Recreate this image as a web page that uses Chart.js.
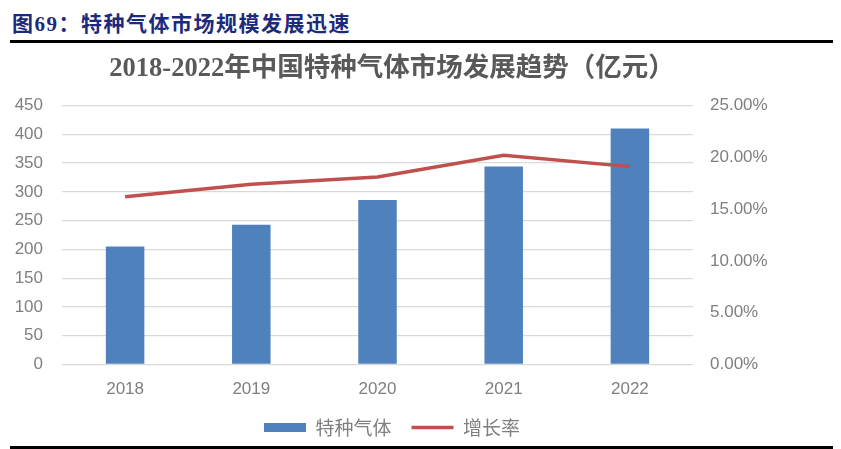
<!DOCTYPE html>
<html>
<head>
<meta charset="utf-8">
<script src="https://cdn.jsdelivr.net/npm/chart.js@4/dist/chart.umd.min.js"></script>
<style>
  body { margin: 0; width: 841px; height: 449px; background: #fff; position: relative; overflow: hidden; }
  #header { position: absolute; left: 12px; top: 7px; font: bold 21px 'Liberation Serif', 'Noto Sans CJK SC'; color: #1c2a7c; letter-spacing: 1.5px; }
  .rule { position: absolute; left: 10px; width: 823px; background: #000; }
  #box { position: absolute; left: 0; top: 44px; width: 784px; height: 403px; }
</style>
</head>
<body>
<div id="header">图69：特种气体市场规模发展迅速</div>
<div class="rule" style="top:40px;height:2.5px"></div>
<div id="box"><canvas id="chart" width="784" height="403"></canvas></div>
<div class="rule" style="top:446px;height:3px"></div>
<script>
// 数据
const years = ['2018', '2019', '2020', '2021', '2022'];
const gasMarket = [205, 243, 286, 344, 410];      // 亿元
const growthRate = [16.2, 17.4, 18.1, 20.2, 19.1]; // %

const tickFont = { family: "'Liberation Sans', 'Noto Sans'", size: 17 };
const grey = '#7f7f7f';

const ctx = document.getElementById('chart').getContext('2d');
new Chart(ctx, {
  data: {
    labels: years,
    datasets: [
      {
        type: 'line',
        label: '增长率',
        data: growthRate,
        yAxisID: 'y1',
        borderColor: '#c0504d',
        borderWidth: 3.5,
        tension: 0,
        pointRadius: 0,
        pointStyle: 'line',
        pointBorderColor: '#c0504d',
        pointBorderWidth: 3.5,
        order: 0
      },
      {
        type: 'bar',
        label: '特种气体',
        data: gasMarket,
        yAxisID: 'y',
        backgroundColor: '#4f81bd',
        pointStyle: 'rect',
        categoryPercentage: 1,
        barPercentage: 0.305,
        order: 1
      }
    ]
  },
  options: {
    responsive: false,
    animation: false,
    layout: { padding: 0 },
    scales: {
      x: {
        grid: { display: false, drawTicks: false },
        border: { display: false },
        ticks: { color: grey, font: tickFont, padding: 15 },
        afterFit: s => { s.height = 33.5; }
      },
      y: {
        position: 'left',
        min: 0,
        max: 450,
        ticks: { stepSize: 50, color: grey, font: tickFont, padding: 19 },
        grid: { color: '#d9d9d9', lineWidth: 1.3, drawTicks: false },
        border: { display: false },
        afterFit: s => { s.width = 62; }
      },
      y1: {
        position: 'right',
        min: 0,
        max: 25,
        ticks: {
          stepSize: 5, color: grey, font: tickFont, padding: 17,
          callback: v => v.toFixed(2) + '%'
        },
        grid: { display: false, drawTicks: false },
        border: { display: false },
        afterFit: s => { s.width = 91; }
      }
    },
    plugins: {
      title: {
        display: true,
        text: '2018-2022年中国特种气体市场发展趋势（亿元）',
        color: '#595959',
        font: { family: "'Liberation Serif', 'Noto Sans CJK SC'", size: 26.5, weight: 'bold' },
        padding: { top: 9.5, bottom: 20.2 }
      },
      legend: {
        position: 'bottom',
        reverse: true,
        labels: {
          usePointStyle: true,
          pointStyleWidth: 42,
          boxHeight: 9,
          padding: 20,
          color: grey,
          font: { family: "'Noto Sans CJK SC'", size: 19 }
        }
      },
      tooltip: { enabled: false }
    }
  }
});
</script>
</body>
</html>
